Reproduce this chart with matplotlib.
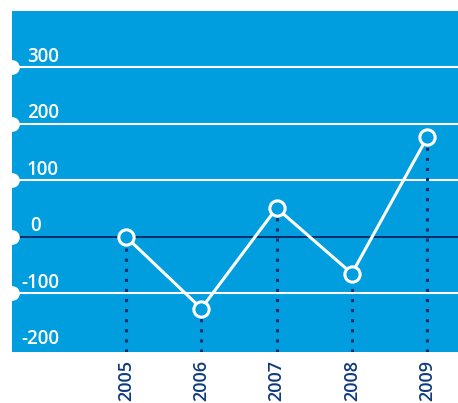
import matplotlib
matplotlib.use("Agg")
import matplotlib.pyplot as plt
import matplotlib.transforms as mtrans

years = ["2005", "2006", "2007", "2008", "2009"]
values = [0, -127, 51, -65, 176]
grid_vals = [300, 200, 100, -100]
ytick_vals = [300, 200, 100, 0, -100, -200]
ytick_labels = ["300", "200", "100", "0", "-100", "-200"]

BLUE = "#009DDF"
NAVY = "#0B2F6B"
LABEL_NAVY = "#0E3A7E"

plt.rcParams['font.family'] = ['Open Sans', 'DejaVu Sans']

W, H = 458, 403
fig = plt.figure(figsize=(W / 100, H / 100), dpi=100)
ax = fig.add_axes([12 / W, 1 - 352 / H, 1 - 12 / W, (352 - 11) / H])
ax.set_facecolor(BLUE)
for s in ax.spines.values():
    s.set_visible(False)

x = list(range(len(years)))
ax.set_xlim(-1.515, 4.41)
ax.set_ylim(-204, 400)

for g in grid_vals:
    ax.axhline(g, color="white", lw=1.5, zorder=1)
ax.axhline(0, color=NAVY, lw=1.4, zorder=1)

# left-edge dots
for g in grid_vals + [0]:
    ax.plot([-1.515], [g], marker='o', ms=9.5, color='white', mec='white',
            clip_on=False, zorder=5)

# dotted drops
for xi, v in zip(x, values):
    ax.plot([xi, xi], [-204, v], color=NAVY, lw=2.2,
            linestyle=(0, (1, 2.3)), dash_capstyle='butt', zorder=2)

ax.plot(x, values, color='white', lw=2.2, zorder=3,
        marker='o', ms=11, mfc=BLUE, mec='white', mew=2.2)

# y labels: pixel x, data y, shifted up a few pixels
ytrans = (mtrans.blended_transform_factory(fig.dpi_scale_trans, ax.transData)
          + mtrans.Affine2D().translate(0, 5.5))
for v, lab in zip(ytick_vals, ytick_labels):
    px = 59 if lab != "0" else 41
    ax.text(px / 100, v, lab, transform=ytrans,
            ha='right', va='baseline', color='white', fontsize=13.5,
            fontweight='semibold')

ax.set_xticks(x)
ax.set_xticklabels(years, rotation=90, color=LABEL_NAVY, fontsize=13,
                   fontweight='semibold', va='top')
ax.tick_params(axis='x', length=0, pad=6)
ax.set_yticks([])

fig.savefig("out.png", dpi=100, facecolor='white')
